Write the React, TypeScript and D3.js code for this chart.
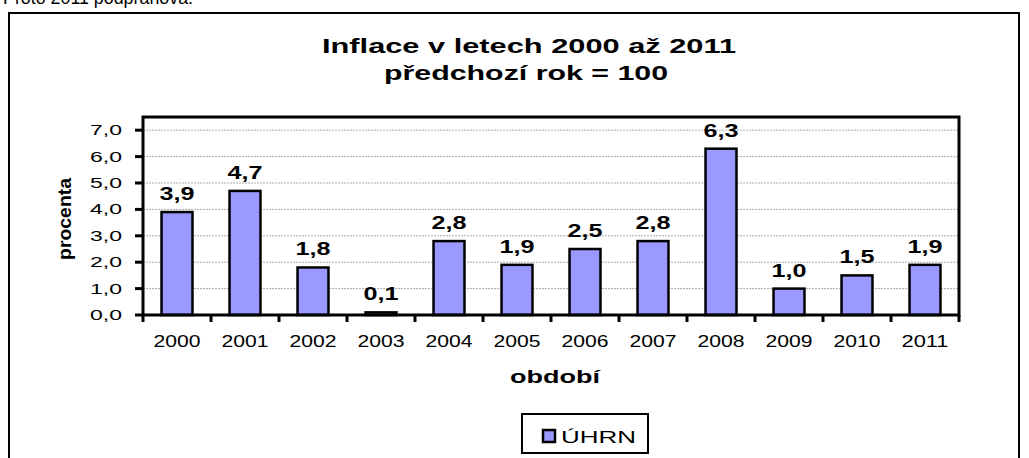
import React from "react";
import * as d3 from "d3";

const years = ["2000", "2001", "2002", "2003", "2004", "2005", "2006", "2007", "2008", "2009", "2010", "2011"];
const inflation = [3.9, 4.7, 1.8, 0.1, 2.8, 1.9, 2.5, 2.8, 6.3, 1.0, 1.5, 1.9];
const yTicks = [0, 1, 2, 3, 4, 5, 6, 7];

const W = 1029, H = 458;
const plot = { left: 143, right: 959, top: 117, bottom: 315 };
const font = "Arial, 'Liberation Sans', sans-serif";
const fmt = (v: number) => v.toFixed(1).replace(".", ",");
// the original picture is stretched sideways, so texts get a fixed length
const fit = "spacingAndGlyphs";

const App = () => {
    const x = d3.scaleBand().domain(years).range([plot.left, plot.right]).paddingInner(0.545).paddingOuter(0.2725);
    const band = d3.scaleBand().domain(years).range([plot.left, plot.right]);
    const y = d3.scaleLinear().domain([0, 7.5]).range([plot.bottom, plot.top]);
    const bounds = [...years.map((yr) => band(yr) as number), plot.right];

    return (
        <svg width={W} height={H} style={{ position: "absolute", left: 0, top: 0, background: "#fff" }} fontFamily={font}>
            <text x={3} y={4} fontSize={18} textLength={190} lengthAdjust={fit}>Proto 2011 podprahová.</text>
            <rect x={9} y={13} width={1010} height={460} fill="none" stroke="#000" strokeWidth={2} />

            <text x={529} y={53} textAnchor="middle" fontSize={20} fontWeight="bold" textLength={414} lengthAdjust={fit}>Inflace v letech 2000 až 2011</text>
            <text x={526} y={80} textAnchor="middle" fontSize={20} fontWeight="bold" textLength={284} lengthAdjust={fit}>předchozí rok  = 100</text>

            {yTicks.slice(1).map((t) => (
                <line key={t} x1={plot.left} x2={plot.right} y1={y(t)} y2={y(t)} stroke="#aaa" strokeWidth={1} strokeDasharray="2,1" />
            ))}

            {inflation.map((v, i) => (
                <g key={years[i]}>
                    <rect x={x(years[i])} y={y(v)} width={x.bandwidth()} height={plot.bottom - y(v)}
                        fill="#9999FF" stroke="#000" strokeWidth={2.5} />
                    <text x={(x(years[i]) as number) + x.bandwidth() / 2} y={y(v) - 12} textAnchor="middle"
                        fontSize={17.5} fontWeight="bold" textLength={35} lengthAdjust={fit}>{fmt(v)}</text>
                </g>
            ))}

            <rect x={plot.left} y={plot.top} width={plot.right - plot.left} height={plot.bottom - plot.top}
                fill="none" stroke="#000" strokeWidth={3} />

            {yTicks.map((t) => (
                <g key={t}>
                    <line x1={plot.left - 8} x2={plot.left} y1={y(t)} y2={y(t)} stroke="#000" strokeWidth={3} />
                    <text x={122} y={y(t) + 5} textAnchor="end" fontSize={14.5} textLength={32} lengthAdjust={fit}>{fmt(t)}</text>
                </g>
            ))}

            {bounds.map((b, i) => (
                <line key={i} x1={b} x2={b} y1={plot.bottom} y2={plot.bottom + 7} stroke="#000" strokeWidth={3} />
            ))}
            {years.map((yr) => (
                <text key={yr} x={(band(yr) as number) + band.bandwidth() / 2} y={347} textAnchor="middle"
                    fontSize={16} textLength={47} lengthAdjust={fit}>{yr}</text>
            ))}

            <text x={555} y={383} textAnchor="middle" fontSize={17.5} fontWeight="bold" textLength={90} lengthAdjust={fit}>období</text>
            <text transform="translate(71,219) rotate(-90)" textAnchor="middle" fontSize={18} fontWeight="bold"
                textLength={82} lengthAdjust={fit}>procenta</text>

            <rect x={522} y={414} width={126} height={39} fill="#fff" stroke="#000" strokeWidth={2} />
            <rect x={543} y={430} width={12} height={12} fill="#9999FF" stroke="#000" strokeWidth={2.5} />
            <text x={561} y={443} fontSize={17} textLength={75} lengthAdjust={fit}>ÚHRN</text>
        </svg>
    );
};

export default App;
